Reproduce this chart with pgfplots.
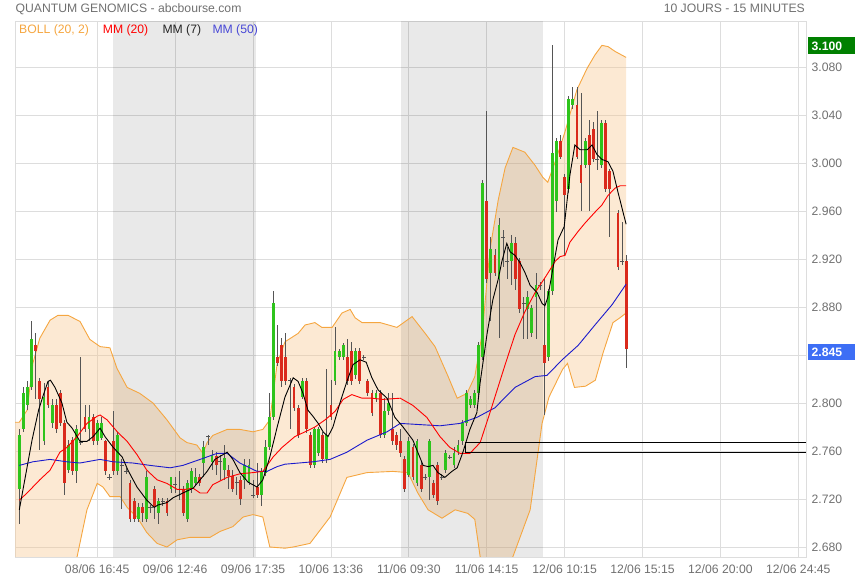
\documentclass[border=0pt]{standalone}
\usepackage{fontspec}
\setmainfont{Liberation Sans}
\usepackage{pgfplots}
\usepackage{pgfplotstable}
\pgfplotsset{compat=1.18}
\usepgfplotslibrary{fillbetween}
\definecolor{gridc}{HTML}{DDDDDD}
\definecolor{txt}{HTML}{707070}
\definecolor{cgreen}{HTML}{2EC41C}
\definecolor{cred}{HTML}{DA2A1C}
\definecolor{wick}{HTML}{555555}
\definecolor{bline}{HTML}{F5A640}
\definecolor{bfill}{HTML}{F8C891}
\definecolor{mblue}{HTML}{1A1ACC}
\definecolor{mred}{HTML}{FF0000}
\definecolor{boxgreen}{HTML}{008000}
\definecolor{boxblue}{HTML}{3D6EF5}

\pgfplotstableread{
i o h l c t
0 2.728 2.778 2.699 2.773 1
1 2.778 2.813 2.776 2.808 1
2 2.798 2.818 2.794 2.813 1
3 2.813 2.868 2.811 2.853 1
4 2.848 2.858 2.803 2.843 -1
5 2.818 2.821 2.761 2.803 -1
6 2.768 2.817 2.765 2.805 1
7 2.813 2.818 2.796 2.798 -1
8 2.783 2.803 2.779 2.798 1
9 2.798 2.803 2.775 2.778 -1
10 2.808 2.811 2.781 2.783 -1
11 2.783 2.786 2.723 2.733 -1
12 2.744 2.769 2.742 2.765 1
13 2.769 2.772 2.740 2.743 -1
14 2.743 2.782 2.733 2.778 1
15 2.767 2.838 2.765 2.767 0
16 2.788 2.798 2.776 2.778 -1
17 2.778 2.798 2.768 2.788 1
18 2.788 2.791 2.765 2.768 -1
19 2.768 2.786 2.765 2.783 1
20 2.771 2.788 2.769 2.783 1
21 2.768 2.769 2.740 2.743 -1
22 2.738 2.741 2.736 2.738 0
23 2.768 2.793 2.740 2.743 -1
24 2.743 2.776 2.740 2.773 1
25 2.748 2.753 2.712 2.748 0
26 2.743 2.746 2.741 2.743 0
27 2.733 2.736 2.701 2.703 -1
28 2.718 2.721 2.701 2.703 -1
29 2.703 2.717 2.701 2.713 1
30 2.713 2.717 2.701 2.708 -1
31 2.703 2.743 2.701 2.738 1
32 2.713 2.715 2.708 2.713 0
33 2.728 2.731 2.703 2.713 -1
34 2.708 2.721 2.699 2.718 1
35 2.718 2.721 2.714 2.718 0
36 2.718 2.721 2.706 2.708 -1
37 2.728 2.738 2.725 2.738 1
38 2.732 2.738 2.725 2.732 0
39 2.728 2.743 2.719 2.728 0
40 2.728 2.731 2.706 2.708 -1
41 2.703 2.736 2.701 2.733 1
42 2.728 2.746 2.725 2.743 1
43 2.733 2.746 2.731 2.738 1
44 2.738 2.741 2.731 2.733 -1
45 2.750 2.768 2.738 2.763 1
46 2.772 2.773 2.765 2.772 0
47 2.751 2.761 2.744 2.757 1
48 2.756 2.759 2.740 2.748 -1
49 2.751 2.757 2.736 2.751 0
50 2.744 2.765 2.736 2.754 1
51 2.744 2.748 2.728 2.739 -1
52 2.739 2.744 2.726 2.728 -1
53 2.734 2.738 2.723 2.734 0
54 2.736 2.739 2.715 2.720 -1
55 2.736 2.753 2.728 2.748 1
56 2.734 2.753 2.732 2.748 1
57 2.723 2.736 2.721 2.723 0
58 2.730 2.750 2.721 2.723 -1
59 2.723 2.746 2.714 2.743 1
60 2.742 2.769 2.739 2.763 1
61 2.763 2.808 2.761 2.788 1
62 2.788 2.893 2.786 2.883 1
63 2.838 2.865 2.831 2.833 -1
64 2.848 2.854 2.813 2.818 -1
65 2.838 2.858 2.815 2.818 -1
66 2.819 2.821 2.778 2.819 0
67 2.813 2.816 2.793 2.796 -1
68 2.796 2.798 2.771 2.773 -1
69 2.805 2.821 2.803 2.818 1
70 2.818 2.821 2.775 2.778 -1
71 2.773 2.776 2.746 2.748 -1
72 2.748 2.780 2.746 2.778 1
73 2.758 2.780 2.756 2.778 1
74 2.773 2.776 2.750 2.753 -1
75 2.753 2.828 2.750 2.773 1
76 2.798 2.819 2.786 2.788 -1
77 2.818 2.863 2.815 2.843 1
78 2.838 2.845 2.836 2.843 1
79 2.838 2.850 2.836 2.848 1
80 2.838 2.853 2.815 2.818 -1
81 2.843 2.851 2.815 2.818 -1
82 2.823 2.846 2.820 2.843 1
83 2.843 2.846 2.816 2.818 -1
84 2.838 2.840 2.836 2.838 0
85 2.818 2.820 2.806 2.808 -1
86 2.808 2.811 2.789 2.792 -1
87 2.804 2.811 2.801 2.808 1
88 2.808 2.811 2.771 2.773 -1
89 2.773 2.804 2.771 2.793 1
90 2.793 2.808 2.790 2.800 1
91 2.778 2.808 2.765 2.768 -1
92 2.773 2.776 2.761 2.765 -1
93 2.768 2.778 2.755 2.758 -1
94 2.753 2.756 2.726 2.728 -1
95 2.740 2.772 2.738 2.768 1
96 2.763 2.766 2.736 2.738 -1
97 2.733 2.770 2.731 2.768 1
98 2.748 2.751 2.726 2.728 -1
99 2.738 2.741 2.736 2.738 0
100 2.738 2.770 2.719 2.768 1
101 2.733 2.736 2.721 2.723 -1
102 2.748 2.751 2.715 2.718 -1
103 2.738 2.741 2.736 2.738 0
104 2.744 2.761 2.742 2.758 1
105 2.755 2.757 2.753 2.755 0
106 2.748 2.763 2.746 2.758 1
107 2.759 2.769 2.757 2.765 1
108 2.768 2.786 2.765 2.783 1
109 2.783 2.811 2.781 2.808 1
110 2.798 2.806 2.796 2.803 1
111 2.798 2.811 2.796 2.808 1
112 2.808 2.851 2.806 2.848 1
113 2.838 2.986 2.836 2.983 1
114 2.968 3.043 2.900 2.903 -1
115 2.908 2.938 2.868 2.928 1
116 2.923 2.928 2.906 2.908 -1
117 2.903 2.954 2.854 2.948 1
118 2.938 2.944 2.913 2.938 0
119 2.918 2.930 2.903 2.918 0
120 2.918 2.940 2.898 2.933 1
121 2.933 2.938 2.894 2.903 -1
122 2.918 2.921 2.875 2.878 -1
123 2.883 2.888 2.853 2.883 0
124 2.878 2.893 2.853 2.888 1
125 2.858 2.882 2.855 2.879 1
126 2.888 2.908 2.853 2.898 1
127 2.898 2.901 2.894 2.898 0
128 2.848 2.903 2.790 2.833 -1
129 2.838 2.895 2.835 2.893 1
130 2.893 3.098 2.890 3.008 1
131 2.968 3.021 2.959 3.018 1
132 3.018 3.023 3.003 3.005 -1
133 2.988 2.991 2.923 2.973 -1
134 2.978 3.056 2.975 3.053 1
135 3.048 3.063 3.045 3.053 1
136 3.048 3.063 3.003 3.005 -1
137 2.998 3.058 2.960 2.983 -1
138 2.998 3.021 2.996 3.018 1
139 3.023 3.036 2.960 2.998 -1
140 3.028 3.034 3.001 3.003 -1
141 3.003 3.043 2.994 3.003 0
142 2.998 3.036 2.996 3.033 1
143 3.033 3.036 2.976 2.978 -1
144 2.993 2.995 2.938 2.978 -1
146 2.958 2.961 2.911 2.913 -1
147 2.918 2.951 2.915 2.918 0
148 2.918 2.923 2.829 2.845 -1
}\candles

\pgfplotstableread{
x y
-1.05 2.784
0 2.784
1.9 2.794
3.3 2.833
5.0 2.854
7.5 2.869
9.4 2.873
11.9 2.873
14.8 2.868
17.2 2.853
19.7 2.847
22.1 2.846
23.8 2.829
26.3 2.813
29.4 2.808
32.6 2.800
36.0 2.786
39.2 2.771
40.9 2.767
43.3 2.765
44.8 2.758
45.8 2.767
47.2 2.773
50.7 2.778
53.8 2.778
57.0 2.776
59.4 2.778
61.1 2.786
62.9 2.833
64.8 2.851
68.0 2.858
69.7 2.865
72.1 2.867
73.8 2.863
76.3 2.863
78.7 2.875
80.7 2.878
81.9 2.871
83.6 2.867
88.0 2.867
92.1 2.863
95.8 2.872
99.0 2.858
101.4 2.847
104.6 2.822
106.8 2.804
109.2 2.808
111.1 2.822
112.9 2.858
114.8 2.928
116.8 2.969
118.5 2.996
120.4 3.013
123.3 3.009
125.8 2.998
127.7 2.988
128.9 2.984
130.7 3.001
133.1 3.026
136.0 3.061
138.5 3.079
140.4 3.090
142.1 3.098
143.6 3.097
145.3 3.093
148 3.088
}\bollU

\pgfplotstableread{
x y
-1.05 2.654
0 2.653
3.3 2.627
7.5 2.619
11.9 2.653
14.1 2.672
16.5 2.711
19.0 2.733
20.4 2.730
22.1 2.722
24.6 2.722
26.3 2.713
28.7 2.705
31.1 2.692
33.6 2.683
36.0 2.680
38.5 2.686
41.6 2.688
44.8 2.688
46.5 2.688
49.0 2.693
52.1 2.697
54.6 2.705
57.0 2.707
59.4 2.705
61.1 2.680
64.8 2.679
66.8 2.680
70.9 2.683
75.8 2.705
79.9 2.738
84.8 2.742
91.1 2.743
94.8 2.742
97.2 2.725
99.7 2.711
103.1 2.704
106.3 2.711
109.4 2.708
111.1 2.703
112.4 2.672
114.8 2.654
116.8 2.653
118.5 2.661
120.4 2.672
124.6 2.711
127.5 2.783
129.2 2.805
132.5 2.828
133.7 2.833
135.4 2.813
138.1 2.814
140.5 2.819
142.4 2.842
144.8 2.867
146.5 2.871
148 2.875
}\bollL

\pgfplotstableread{
x y
0 2.711
3.1 2.769
4.7 2.794
5.8 2.806
7.0 2.818
7.6 2.819
8.7 2.813
10.4 2.800
11.6 2.784
12.9 2.779
14.8 2.768
16.5 2.768
18.0 2.772
19.7 2.779
20.9 2.772
22.9 2.763
25.1 2.755
26.5 2.744
28.7 2.730
31.1 2.719
32.9 2.713
33.8 2.715
36.0 2.717
37.5 2.721
39.9 2.725
42.4 2.729
44.1 2.736
45.8 2.743
47.7 2.753
50.7 2.759
52.1 2.753
53.8 2.742
55.8 2.734
58.0 2.730
59.4 2.736
61.1 2.755
62.9 2.780
64.8 2.805
66.8 2.821
68.0 2.818
69.2 2.808
70.4 2.794
71.6 2.789
72.9 2.783
74.1 2.776
75.3 2.772
76.5 2.780
78.2 2.800
79.9 2.818
81.4 2.832
83.1 2.836
84.6 2.834
86.0 2.821
87.5 2.811
89.7 2.804
91.6 2.788
93.6 2.780
96.0 2.769
98.5 2.748
99.7 2.747
100.9 2.748
102.1 2.742
103.8 2.738
105.5 2.743
106.8 2.746
108.2 2.759
109.9 2.778
111.6 2.792
112.4 2.817
114.1 2.858
115.5 2.886
116.8 2.903
117.7 2.918
118.9 2.933
119.7 2.926
120.9 2.923
122.1 2.917
123.3 2.909
124.6 2.898
126.3 2.892
127.5 2.883
128.2 2.881
128.9 2.888
130.2 2.913
131.4 2.936
132.9 2.947
134.3 2.990
135.5 3.015
136.8 3.011
138.5 3.011
139.7 3.015
140.9 3.007
142.1 3.003
143.6 3.001
144.8 2.993
146.0 2.976
148 2.949
}\mmseven

\pgfplotstableread{
x y
0 2.719
1.9 2.725
5.0 2.736
7.5 2.744
9.9 2.759
11.6 2.763
14.1 2.772
16.5 2.783
19.0 2.789
19.7 2.790
21.4 2.786
23.9 2.776
26.3 2.768
28.7 2.757
31.1 2.744
33.6 2.736
36.0 2.733
38.5 2.728
40.4 2.728
42.4 2.729
44.1 2.725
45.8 2.725
47.2 2.732
50.7 2.738
53.8 2.741
57.0 2.742
59.4 2.743
61.9 2.755
64.1 2.763
67.2 2.772
69.7 2.776
72.1 2.780
74.6 2.786
77.0 2.793
79.0 2.803
81.1 2.807
83.6 2.804
86.0 2.804
88.7 2.803
92.9 2.804
96.0 2.798
99.4 2.788
102.6 2.772
105.0 2.763
107.5 2.758
109.9 2.758
112.4 2.767
114.8 2.792
118.5 2.832
120.9 2.857
123.3 2.876
125.8 2.892
128.7 2.907
130.7 2.918
131.9 2.922
133.1 2.923
134.3 2.934
136.3 2.943
138.0 2.950
140.4 2.959
142.1 2.965
143.6 2.973
145.3 2.979
146.5 2.981
148 2.981
}\mmtwenty

\pgfplotstableread{
x y
0 2.748
3.3 2.751
7.5 2.753
11.6 2.751
14.8 2.750
19.7 2.753
22.9 2.751
27.7 2.750
31.9 2.748
36.8 2.746
39.9 2.748
44.1 2.753
48.2 2.758
50.7 2.758
53.8 2.750
58.0 2.743
60.4 2.743
62.9 2.747
64.8 2.749
71.6 2.751
75.8 2.753
79.9 2.759
84.8 2.769
89.7 2.776
92.9 2.783
97.7 2.782
102.6 2.781
107.5 2.783
111.6 2.788
116.0 2.796
120.9 2.813
125.8 2.822
128.7 2.823
132.4 2.836
136.3 2.848
140.4 2.865
144.6 2.882
148 2.899
}\mmfifty

\begin{document}
\begin{tikzpicture}
\path (0,0) rectangle (855bp,580bp);
\begin{axis}[
  at={(15bp,23bp)}, anchor=south west,
  scale only axis, width=791bp, height=536bp,
  xmin=-1.05, xmax=191.88, ymin=2.67167, ymax=3.11833,
  axis line style={draw=gridc, line width=0.8bp},
  major tick length=0pt,
  grid=major, grid style={draw=gridc, line width=0.8bp},
  xtick={19,38,57,76,95,114,133,152,171,190},
  xticklabels={08/06 16:45,09/06 12:46,09/06 17:35,10/06 13:36,11/06 09:30,11/06 14:15,12/06 10:15,12/06 15:15,12/06 20:00,12/06 24:45},
  ytick={2.68,2.72,2.76,2.80,2.84,2.88,2.92,2.96,3.00,3.04,3.08},
  yticklabels={2.680,2.720,2.760,2.800,{},2.880,2.920,2.960,3.000,3.040,3.080},
  yticklabel pos=right,
  yticklabel style={anchor=west, inner sep=0pt, xshift=5.5bp},
  xticklabel style={anchor=north, inner sep=0pt, yshift=-7bp},
  tick label style={font=\fontsize{12.2bp}{14bp}\selectfont, text=txt},
  candle/.style={only marks, mark=*, mark size=0pt, mark options={draw=none, fill=none}},
]
% day shading
\fill[black, fill opacity=0.085] (axis cs:22.9,2.67167) rectangle (axis cs:57.7,3.11833);
\fill[black, fill opacity=0.085] (axis cs:93.0,2.67167) rectangle (axis cs:127.8,3.11833);

% Bollinger band
\addplot[name path=U, draw=none, forget plot] table[x=x,y=y] {\bollU};
\addplot[name path=L, draw=none, forget plot] table[x=x,y=y] {\bollL};
\addplot[fill=bfill, fill opacity=0.4, draw=none] fill between[of=U and L];
\addplot[draw=bline, line width=0.9bp] table[x=x,y=y] {\bollU};
\addplot[draw=bline, line width=0.9bp] table[x=x,y=y] {\bollL};

% wicks
\addplot[candle, error bars/.cd, y dir=both, y explicit, error mark=none,
  error bar style={line width=0.8bp, draw=wick, solid}]
  table[x=i, y expr={(\thisrow{h}+\thisrow{l})/2}, y error expr={(\thisrow{h}-\thisrow{l})/2}] {\candles};
% up bodies (zero length for down candles)
\addplot[candle, error bars/.cd, y dir=both, y explicit, error mark=none,
  error bar style={line width=2.8bp, draw=cgreen, solid, line cap=butt}]
  table[x=i, y expr={(\thisrow{o}+\thisrow{c})/2}, y error expr={max(\thisrow{c}-\thisrow{o},0)/2}] {\candles};
% down bodies (zero length for up candles)
\addplot[candle, error bars/.cd, y dir=both, y explicit, error mark=none,
  error bar style={line width=2.8bp, draw=cred, solid, line cap=butt}]
  table[x=i, y expr={(\thisrow{o}+\thisrow{c})/2}, y error expr={max(\thisrow{o}-\thisrow{c},0)/2}] {\candles};
% doji ticks (zero length unless open = close)
\addplot[candle, error bars/.cd, x dir=both, x explicit, error mark=none,
  error bar style={line width=0.9bp, draw=wick, solid, line cap=butt}]
  table[x=i, y=o, x error expr={(1-abs(\thisrow{t}))*0.5}] {\candles};

% moving averages
\addplot[draw=mblue, line width=0.9bp] table[x=x,y=y] {\mmfifty};
\addplot[draw=mred, line width=0.9bp] table[x=x,y=y] {\mmtwenty};
\addplot[draw=black, line width=0.9bp] table[x=x,y=y] {\mmseven};

% gap lines
\addplot[draw=black, line width=0.9bp] coordinates {(191.88,2.7673) (108.7,2.7673) (108.7,2.7589) (191.88,2.7589)};
\end{axis}

% header texts
\node[anchor=base west, inner sep=0pt, text=txt, font=\fontsize{12.2bp}{14bp}\selectfont] at (15.5bp,567bp) {QUANTUM GENOMICS - abcbourse.com};
\node[anchor=base east, inner sep=0pt, text=txt, font=\fontsize{12.2bp}{14bp}\selectfont] at (805bp,567bp) {10 JOURS - 15 MINUTES};
\node[anchor=base west, inner sep=0pt, text=bline, font=\fontsize{12.2bp}{14bp}\selectfont] at (19bp,546.5bp) {BOLL (20, 2)};
\node[anchor=base west, inner sep=0pt, text=mred, font=\fontsize{12.2bp}{14bp}\selectfont] at (102.7bp,546.5bp) {MM (20)};
\node[anchor=base west, inner sep=0pt, text=black!85, font=\fontsize{12.2bp}{14bp}\selectfont] at (162.3bp,546.5bp) {MM (7)};
\node[anchor=base west, inner sep=0pt, text=mblue!80!white, font=\fontsize{12.2bp}{14bp}\selectfont] at (212.3bp,546.5bp) {MM (50)};

% price boxes
\fill[boxgreen] (808bp,542.5bp) rectangle (855bp,525.5bp);
\node[anchor=west, inner sep=0pt, text=white, font=\bfseries\fontsize{12.2bp}{14bp}\selectfont] at (811.5bp,534bp) {3.100};
\fill[boxblue] (808bp,236bp) rectangle (855bp,219.5bp);
\node[anchor=west, inner sep=0pt, text=white, font=\bfseries\fontsize{12.2bp}{14bp}\selectfont] at (811.5bp,227.8bp) {2.845};
\end{tikzpicture}
\end{document}
